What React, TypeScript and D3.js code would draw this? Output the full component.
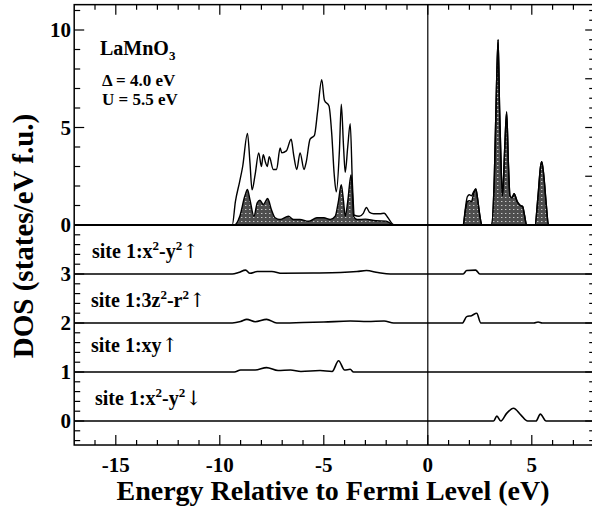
import React from 'react';
import * as d3 from 'd3';

type P = [number, number];

// Energy (eV), DOS (states/eV f.u.) — upper panel
const totalDOS: P[] = [
  [-17, 0], [-9.4, 0], [-9.25, 1.2], [-9.05, 2.2], [-8.9, 3.0], [-8.67, 4.7], [-8.55, 3.2], [-8.45, 1.8],
  [-8.3, 2.6], [-8.13, 3.7], [-8.0, 3.0], [-7.91, 3.6], [-7.8, 3.2], [-7.72, 3.0], [-7.62, 3.5],
  [-7.43, 2.85], [-7.27, 2.85], [-7.1, 3.95], [-7.02, 3.7], [-6.8, 3.8], [-6.57, 4.4], [-6.45, 3.6],
  [-6.3, 2.85], [-6.14, 3.7], [-5.95, 2.85], [-5.85, 3.2], [-5.66, 4.4], [-5.45, 4.6], [-5.3, 5.8],
  [-5.1, 7.45], [-4.97, 6.4], [-4.75, 6.1], [-4.62, 4.7], [-4.5, 2.6], [-4.4, 1.7], [-4.25, 3.8],
  [-4.16, 6.2], [-4.05, 4.0], [-3.97, 2.7], [-3.85, 4.0], [-3.73, 5.2], [-3.62, 2.0], [-3.53, 0.5],
  [-3.3, 0.45], [-3.1, 0.6], [-2.95, 0.9], [-2.8, 0.65], [-2.6, 0.58], [-2.3, 0.58], [-2.1, 0.6],
  [-1.9, 0.35], [-1.7, 0.05], [-1.6, 0],
  [1.7, 0], [1.8, 0.8], [1.9, 1.45], [2.0, 1.55], [2.1, 1.5], [2.2, 1.7], [2.31, 1.85], [2.4, 1.3], [2.5, 0.5], [2.6, 0],
  [3.05, 0], [3.2, 2.5], [3.3, 7.0], [3.38, 9.5], [3.45, 6.0], [3.5, 4.0], [3.59, 1.5], [3.7, 4.0], [3.79, 5.8],
  [3.88, 3.0], [3.95, 1.5], [4.05, 1.4], [4.15, 1.6], [4.3, 1.2], [4.45, 1.0], [4.56, 0.95], [4.65, 0.5], [4.75, 0],
  [5.15, 0], [5.3, 1.5], [5.42, 3.0], [5.48, 3.25], [5.58, 2.5], [5.7, 1.0], [5.8, 0], [8, 0],
];

const shadedDOS: P[] = [
  [-17, 0], [-9.3, 0], [-9.04, 0.45], [-8.8, 1.47], [-8.67, 1.82], [-8.55, 1.3], [-8.36, 0.45], [-8.2, 1.14],
  [-8.07, 1.27], [-7.91, 1.05], [-7.7, 1.36], [-7.52, 0.79], [-7.34, 0.37], [-7.1, 0.28], [-6.7, 0.45],
  [-6.45, 0.28], [-6.15, 0.28], [-5.74, 0.19], [-5.33, 0.37], [-5.0, 0.37], [-4.69, 0.28], [-4.45, 0.45],
  [-4.3, 1.2], [-4.16, 2.07], [-4.05, 1.2], [-3.97, 0.45], [-3.85, 1.2], [-3.69, 2.58], [-3.62, 1.5],
  [-3.57, 0.45], [-3.4, 0.28], [-3.0, 0.3], [-2.5, 0.22], [-2.0, 0.2], [-1.75, 0.05], [-1.65, 0],
  [1.7, 0], [1.8, 0.7], [1.9, 1.2], [2.0, 1.25], [2.1, 1.2], [2.2, 1.6], [2.31, 1.85], [2.4, 1.3], [2.5, 0.5], [2.6, 0],
  [3.05, 0], [3.2, 2.5], [3.3, 7.0], [3.38, 9.5], [3.45, 6.0], [3.5, 4.0], [3.59, 1.5], [3.7, 4.0], [3.79, 5.8],
  [3.88, 3.0], [3.95, 1.5], [4.05, 1.4], [4.15, 1.6], [4.3, 1.2], [4.45, 1.0], [4.56, 0.95], [4.65, 0.5], [4.75, 0],
  [5.15, 0], [5.3, 1.5], [5.42, 3.0], [5.48, 3.25], [5.58, 2.5], [5.7, 1.0], [5.8, 0], [8, 0],
];

// Lower panel orbital-projected DOS (each drawn on its own offset)
const x2y2Up: P[] = [
  [-17, 0], [-9.4, 0], [-9.1, 0.03], [-8.76, 0.08], [-8.55, 0.015], [-8.2, 0.05], [-7.5, 0.05], [-7.0, 0.015],
  [-5.5, 0.02], [-4.2, 0.03], [-3.4, 0.05], [-2.95, 0.07], [-2.4, 0.03], [-1.8, 0],
  [1.7, 0], [1.87, 0.07], [2.3, 0.08], [2.5, 0], [8, 0],
];
const z2Up: P[] = [
  [-17, 0], [-9.4, 0], [-9.0, 0.03], [-8.7, 0.075], [-8.3, 0.027], [-7.75, 0.075], [-7.26, 0], [-6.0, 0.01],
  [-5.0, 0.02], [-3.73, 0.04], [-2.9, 0.03], [-2.1, 0.04], [-1.64, 0],
  [1.66, 0], [1.87, 0.13], [2.1, 0.15], [2.35, 0.2], [2.55, 0], [5.1, 0], [5.3, 0.02], [5.5, 0], [8, 0],
];
const xyUp: P[] = [
  [-17, 0], [-9.3, 0], [-9.0, 0.04], [-8.3, 0.04], [-7.75, 0.09], [-7.2, 0.03], [-6.6, 0.04], [-6.1, 0.01],
  [-5.18, 0.03], [-4.6, 0.01], [-4.29, 0.23], [-4.0, 0.04], [-3.73, 0.055], [-3.57, 0], [8, 0],
];
const x2y2Down: P[] = [
  [-17, 0], [3.16, 0], [3.32, 0.1], [3.51, 0], [3.8, 0.16], [4.12, 0.26], [4.48, 0.12], [4.8, 0],
  [5.2, 0], [5.41, 0.14], [5.69, 0], [8, 0],
];

const lowerOffsets = [3, 2, 1, 0];
const lowerSeries = [x2y2Up, z2Up, xyUp, x2y2Down];

const xTickLabels = [-15, -10, -5, 0, 5];
const upperTickLabels = [0, 5, 10];
const lowerTickLabels = [0, 1, 2, 3];

const FONT = '"Liberation Serif", "Times New Roman", "DejaVu Serif", serif';
const ARROW_FONT = '"DejaVu Serif", "DejaVu Sans", serif';

export default function App() {
  const x = d3.scaleLinear().domain([-17, 8]).range([74.2, 594.2]);
  const yU = d3.scaleLinear().domain([0, 10]).range([225, 30]);
  const yL = d3.scaleLinear().domain([0, 4]).range([421, 225]);

  const left = x(-17);
  const right = x(8);
  const top = yU(11.3);
  const bottom = yL(-0.49);

  const lineU = d3.line<P>().x(d => x(d[0])).y(d => yU(d[1])).curve(d3.curveMonotoneX);
  const areaU = d3.area<P>().x(d => x(d[0])).y0(yU(0)).y1(d => yU(d[1])).curve(d3.curveMonotoneX);
  const lineL = (off: number) => d3.line<P>().x(d => x(d[0])).y(d => yL(d[1] + off)).curve(d3.curveMonotoneX);

  const xMinor = d3.range(-16, 8, 1);
  const uLeft = d3.range(1, 12, 1);
  const uRight = d3.range(0.5, 11.01, 0.5);
  const lTicks = d3.range(-0.4, 3.81, 0.2).map(v => Math.round(v * 10) / 10);

  const ticks: JSX.Element[] = [];
  xMinor.forEach(e => {
    const major = e % 5 === 0;
    const len = major ? 10 : 5;
    ticks.push(<line key={'b' + e} x1={x(e)} x2={x(e)} y1={bottom} y2={bottom - len} />);
    ticks.push(<line key={'t' + e} x1={x(e)} x2={x(e)} y1={top} y2={top + len} />);
  });
  uLeft.forEach(v => {
    const len = v % 5 === 0 ? 10 : 6;
    ticks.push(<line key={'ul' + v} x1={left} x2={left + len} y1={yU(v)} y2={yU(v)} />);
  });
  uRight.forEach(v => {
    const len = Math.abs(v / 2.5 - Math.round(v / 2.5)) < 1e-6 ? 9 : 5;
    ticks.push(<line key={'ur' + v} x1={right} x2={right - len} y1={yU(v)} y2={yU(v)} />);
  });
  lTicks.forEach(v => {
    const isInt = Math.abs(v - Math.round(v)) < 1e-6;
    const len = isInt ? 10 : 6;
    ticks.push(<line key={'ll' + v} x1={left} x2={left + len} y1={yL(v)} y2={yL(v)} />);
    ticks.push(<line key={'lr' + v} x1={right} x2={right - (isInt ? 9 : 5)} y1={yL(v)} y2={yL(v)} />);
  });

  const labelX = 92;
  const sup = (s: string) => <tspan dy={-8} fontSize={13}>{s}</tspan>;
  const base = (s: string) => <tspan dy={8}>{s}</tspan>;
  const arrow = (s: string, shift = 0) => (
    <tspan dy={shift} fontFamily={ARROW_FONT} fontWeight="normal" fontSize={20}>{s}</tspan>
  );

  return (
    <div style={{ position: 'absolute', left: 0, top: 0 }}>
      <svg width={592} height={510} style={{ display: 'block', background: '#fff' }} fontFamily={FONT}>
        <defs>
          <clipPath id="plotclip">
            <rect x={left} y={top} width={right - left} height={bottom - top} />
          </clipPath>
          <pattern id="dots" width={4} height={4} patternUnits="userSpaceOnUse">
            <rect width={4} height={4} fill="#4e4e4e" />
            <rect x={1} y={1} width={1.4} height={1} fill="#c8c8c8" />
          </pattern>
        </defs>

        <g clipPath="url(#plotclip)">
          <path d={areaU(shadedDOS) || ''} fill="url(#dots)" stroke="#000" strokeWidth={1.4} />
          <path d={lineU(totalDOS) || ''} fill="none" stroke="#000" strokeWidth={1.4} />
          <line x1={left} x2={right} y1={yU(0)} y2={yU(0)} stroke="#000" strokeWidth={2} />
          {lowerSeries.map((s, i) => (
            <path key={i} d={lineL(lowerOffsets[i])(s) || ''} fill="none" stroke="#000" strokeWidth={1.6} />
          ))}
          <line x1={x(0)} x2={x(0)} y1={top} y2={bottom} stroke="#000" strokeWidth={1.2} />
        </g>

        <g stroke="#000" strokeWidth={1.2}>{ticks}</g>
        <rect x={left} y={top} width={right - left} height={bottom - top} fill="none" stroke="#000" strokeWidth={1.5} />

        <g fontWeight="bold" fontSize={21} fill="#000">
          {upperTickLabels.map(v => (
            <text key={'u' + v} x={71} y={yU(v) + 7} textAnchor="end">{v}</text>
          ))}
          {lowerTickLabels.map(v => (
            <text key={'l' + v} x={71} y={yL(v) + 7} textAnchor="end">{v}</text>
          ))}
          {xTickLabels.map(v => (
            <text key={'x' + v} x={x(v)} y={472} textAnchor="middle">{v}</text>
          ))}
        </g>

        <g fontWeight="bold" fill="#000">
          <text x={100} y={55} fontSize={20}>LaMnO<tspan dy={5} fontSize={13}>3</tspan></text>
          <text x={102} y={86} fontSize={17}>Δ = 4.0 eV</text>
          <text x={102} y={105} fontSize={17}>U = 5.5 eV</text>

          <text x={labelX} y={258} fontSize={20}>site 1:x{sup('2')}{base('-y')}{sup('2')}{arrow('↑', 8)}</text>
          <text x={labelX - 1} y={307} fontSize={20}>site 1:3z{sup('2')}{base('-r')}{sup('2')}{arrow('↑', 8)}</text>
          <text x={labelX - 1} y={352} fontSize={20}>site 1:xy{arrow('↑')}</text>
          <text x={labelX + 3} y={405} fontSize={20}>site 1:x{sup('2')}{base('-y')}{sup('2')}{arrow('↓', 8)}</text>

          <text x={333} y={500} fontSize={28} textAnchor="middle">Energy Relative to Fermi Level (eV)</text>
          <text transform="translate(33,236) rotate(-90)" fontSize={29} textAnchor="middle">DOS (states/eV f.u.)</text>
        </g>
      </svg>
    </div>
  );
}
